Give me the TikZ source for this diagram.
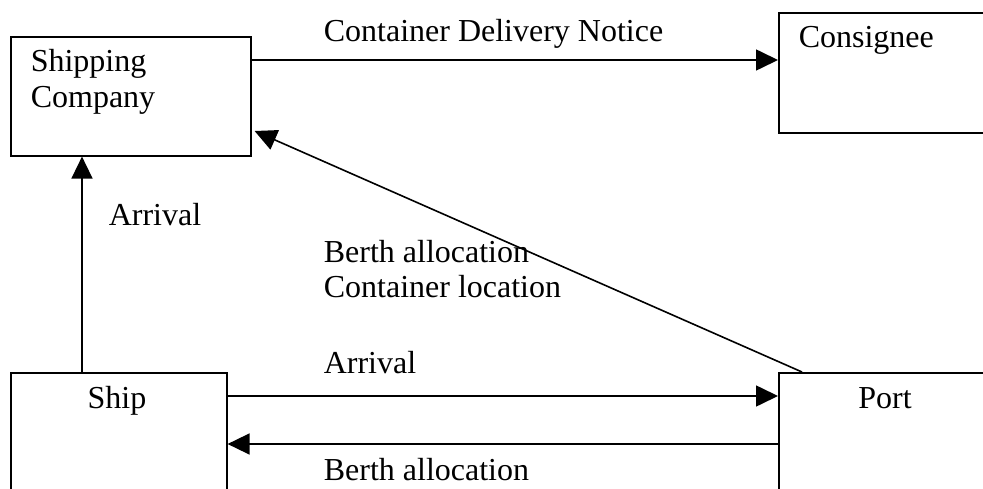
\documentclass[tikz,border=0pt]{standalone}
\usepackage{fontspec}
\setmainfont{Liberation Serif}
\usetikzlibrary{arrows.meta}
\begin{document}
\begin{tikzpicture}[x=1pt,y=-1pt, line width=1.6pt,
  box/.style={draw, rectangle, inner sep=0pt, anchor=north west},
  lbl/.style={anchor=base west, inner sep=0pt, font=\fontsize{32}{35}\selectfont},
  clbl/.style={anchor=base, inner sep=0pt, font=\fontsize{32}{35}\selectfont},
  arr/.style={-{Triangle[length=22pt,width=21pt]}}]
\clip (0,0) rectangle (983,489);
% boxes
\node[box, minimum width=240pt, minimum height=119pt] (sc) at (10,36) {};
\node[box, minimum width=240pt, minimum height=120pt] (cons) at (778,12) {};
\node[box, minimum width=216pt, minimum height=150pt] (ship) at (10,372) {};
\node[box, minimum width=250pt, minimum height=150pt] (port) at (778,372) {};
% box texts
\node[lbl] (t1) at (30,72) {Shipping};
\node[lbl] (t2) at (30,108) {Company};
\node[lbl] (t3) at (798,48) {Consignee};
\node[clbl] (t4) at (117,408) {Ship};
\node[clbl] (t5) at (885,408) {Port};
% helper coordinates
\coordinate (ya) at (0,60);
\coordinate (xa) at (82,0);
\coordinate (xd) at (802,0);
\coordinate (yd) at (0,131);
\coordinate (yb) at (0,396);
\coordinate (yc) at (0,444);
% connectors
\draw[arr] (sc.east |- ya) -- (cons.west |- ya);
\draw[arr] (ship.north -| xa) -- (sc.south -| xa);
\draw[arr] (port.north -| xd) -- ([xshift=3pt]sc.east |- yd);
\draw[arr] (ship.east |- yb) -- (port.west |- yb);
\draw[arr] (port.west |- yc) -- (ship.east |- yc);
% connector labels
\node[lbl] (l1) at (323,42) {Container Delivery Notice};
\node[lbl] (l2) at (108,226) {Arrival};
\node[lbl] (l3) at (323,263) {Berth allocation};
\node[lbl] (l4) at (323,298) {Container location};
\node[lbl] (l5) at (323,373) {Arrival};
\node[lbl] (l6) at (323,480) {Berth allocation};
\end{tikzpicture}
\end{document}
